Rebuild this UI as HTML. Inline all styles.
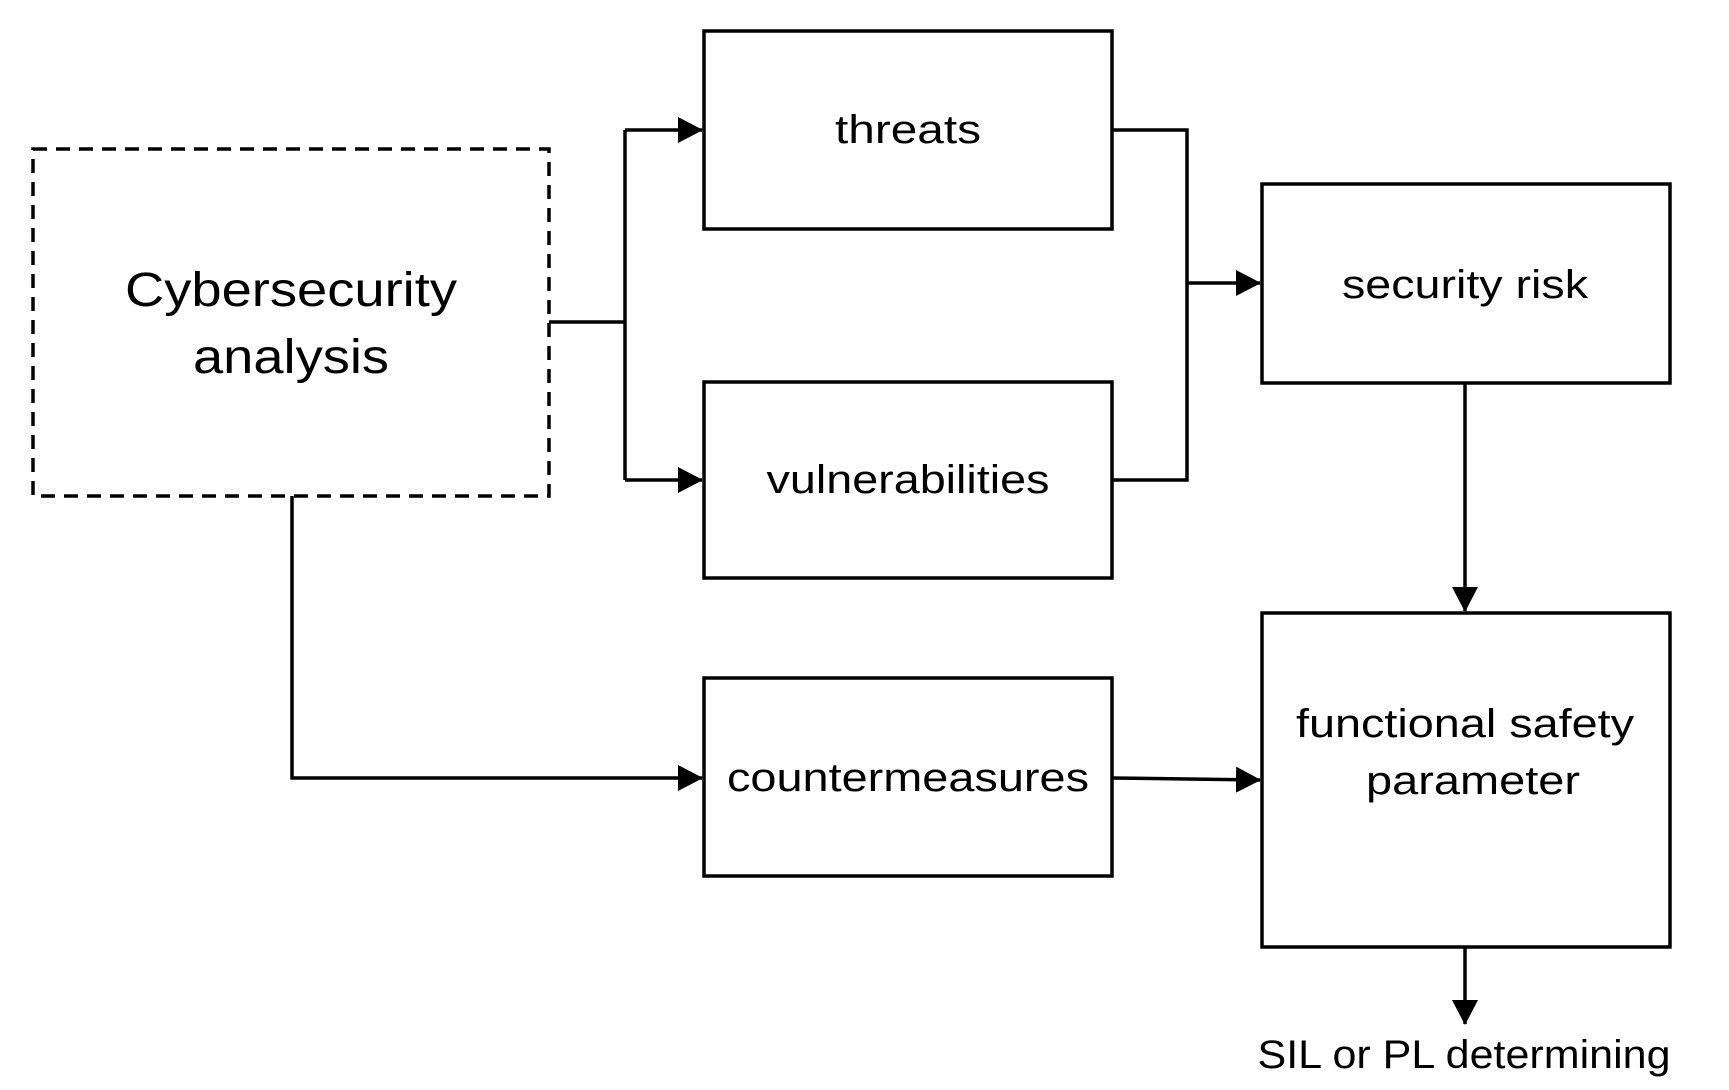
<!DOCTYPE html>
<html><head><style>html,body{margin:0;padding:0;background:#fff}svg{display:block}</style></head>
<body>
<svg width="1729" height="1090" viewBox="0 0 1729 1090" xmlns="http://www.w3.org/2000/svg" font-family="Liberation Sans, Arial, sans-serif">
<defs><marker id="a" markerWidth="10" markerHeight="10" refX="9" refY="5" orient="auto" markerUnits="userSpaceOnUse" viewBox="0 0 10 10"><path d="M0,0 L10,5 L0,10 z" fill="#000"/></marker>
<marker id="b" markerWidth="26" markerHeight="26" refX="24" refY="13" orient="auto" markerUnits="userSpaceOnUse"><path d="M0,0 L25,13 L0,26 z" fill="#000"/></marker></defs>
<g fill="none" stroke="#000" stroke-width="3.5">
<rect x="33" y="149" width="516" height="347" stroke-dasharray="14,9"/>
<rect x="704" y="31" width="408" height="198"/>
<rect x="704" y="382" width="408" height="196"/>
<rect x="704" y="678" width="408" height="198"/>
<rect x="1262" y="184" width="408" height="199"/>
<rect x="1262" y="613" width="408" height="334"/>
<polyline points="549,322 625,322"/>
<polyline points="625,130 625,480"/>
<polyline points="625,130 702,130" marker-end="url(#b)"/>
<polyline points="625,480 702,480" marker-end="url(#b)"/>
<polyline points="1112,130 1187,130 1187,480 1112,480"/>
<polyline points="1187,283 1260,283" marker-end="url(#b)"/>
<polyline points="292,496 292,778 702,778" marker-end="url(#b)"/>
<polyline points="1112,778 1260,780" marker-end="url(#b)"/>
<polyline points="1465,383 1465,611" marker-end="url(#b)"/>
<polyline points="1465,947 1465,1024" marker-end="url(#b)"/>
</g>
<g fill="#000" text-anchor="middle" font-size="40">
<text x="291" y="306" font-size="48" textLength="332" lengthAdjust="spacingAndGlyphs">Cybersecurity</text>
<text x="291" y="373" font-size="48" textLength="196" lengthAdjust="spacingAndGlyphs">analysis</text>
<text x="908" y="143" textLength="146" lengthAdjust="spacingAndGlyphs">threats</text>
<text x="908" y="493" textLength="283" lengthAdjust="spacingAndGlyphs">vulnerabilities</text>
<text x="908" y="791" textLength="362" lengthAdjust="spacingAndGlyphs">countermeasures</text>
<text x="1465" y="298" textLength="246" lengthAdjust="spacingAndGlyphs">security risk</text>
<text x="1465" y="737" textLength="338" lengthAdjust="spacingAndGlyphs">functional safety</text>
<text x="1473" y="794" textLength="214" lengthAdjust="spacingAndGlyphs">parameter</text>
<text x="1464" y="1068" textLength="413" lengthAdjust="spacingAndGlyphs">SIL or PL determining</text>
</g>
</svg>
</body></html>
